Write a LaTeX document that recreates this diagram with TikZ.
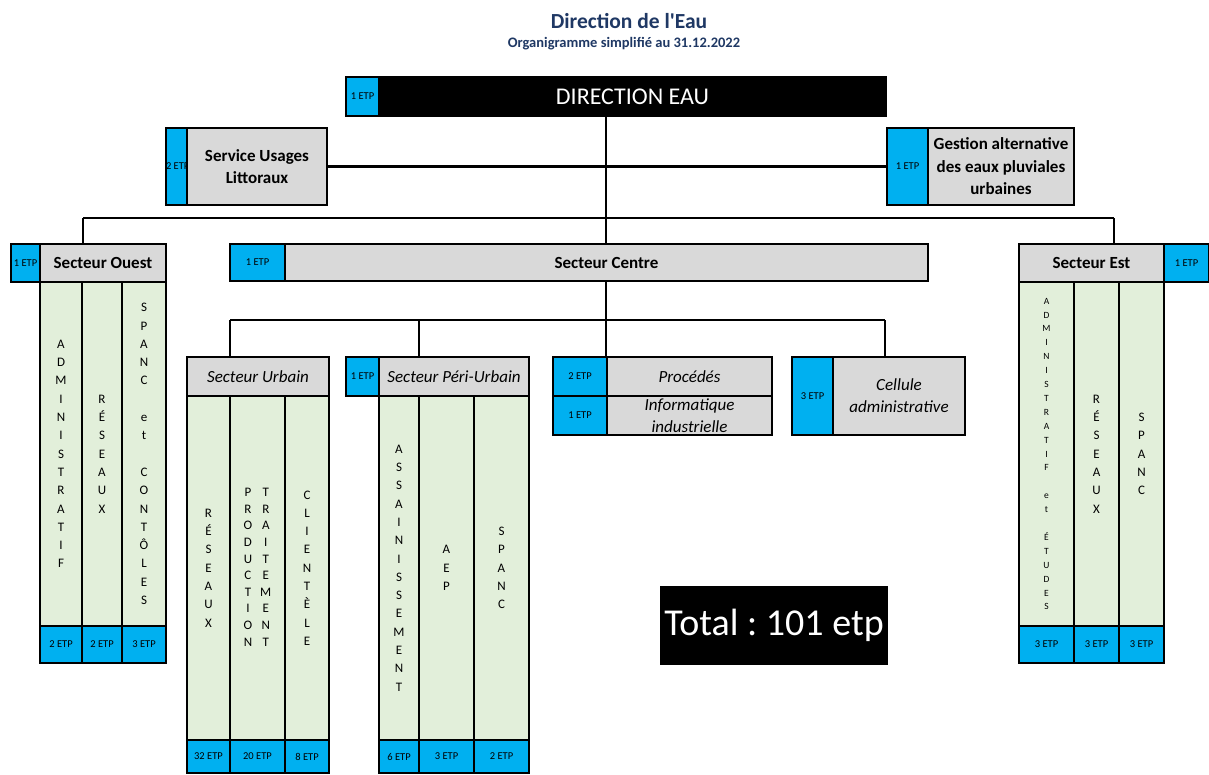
\documentclass[tikz,border=0pt]{standalone}
\usepackage{fontspec}
\setmainfont{Carlito}[Ligatures=TeXOff]
\definecolor{bleuetp}{HTML}{00B0F0}
\definecolor{grisbox}{HTML}{D9D9D9}
\definecolor{vertcol}{HTML}{E2EFDA}
\definecolor{bleutitre}{HTML}{1F3864}
\frenchspacing
% mot ecrit lettre par lettre, de haut en bas
\newcommand\vmot[1]{\vmotaux#1\relax}
\def\vmotaux#1#2\relax{#1\ifx\relax#2\relax\else\\\vmotaux#2\relax\fi}

\begin{document}
\begin{tikzpicture}[x=1pt,y=-1pt,
  every node/.style={inner sep=0pt,outer sep=0pt},
  boite/.style={draw,line width=2pt,fill=grisbox,anchor=north west,align=center},
  etp/.style={boite,fill=bleuetp,font=\fontsize{10.5}{12}\selectfont},
  secteur/.style={boite,font=\bfseries\fontsize{17}{22.5}\selectfont},
  service/.style={boite,font=\itshape\fontsize{17}{22}\selectfont},
  colonne/.style={boite,fill=vertcol,font=\fontsize{13}{18.3}\selectfont},
  noir/.style={boite,fill=black,text=white},
  lien/.style={line width=2.2pt}]
\useasboundingbox (0,0) rectangle (1209,774);

\node[font=\bfseries\fontsize{21.5}{24}\selectfont,text=bleutitre] (titre) at (629,21) {Direction de l'Eau};
\node[font=\bfseries\fontsize{14.5}{16}\selectfont,text=bleutitre] (soustitre) at (624,44) {Organigramme simplifié au 31.12.2022};

% direction
\node[etp,minimum width=33,minimum height=39] (diretp) at (346,77) {1 ETP};
\node[noir,minimum width=507,minimum height=39,font=\fontsize{24}{26}\selectfont] (direction) at (379,77) {DIRECTION EAU};

\node[etp,minimum width=21,minimum height=77] (usagesetp) at (166,128) {\makebox[21pt][l]{2 ETP}};
\node[secteur,minimum width=140,minimum height=77] (usages) at (187,128) {Service Usages\\Littoraux};
\node[etp,minimum width=41,minimum height=77] (gestionetp) at (887,128) {1 ETP};
\node[secteur,minimum width=146,minimum height=77] (gestion) at (928,128) {Gestion alternative\\des eaux pluviales\\urbaines};

% secteur ouest
\node[etp,minimum width=29,minimum height=38] (ouestetp) at (11,244) {1 ETP};
\node[secteur,minimum width=126,minimum height=38] (ouest) at (40,244) {Secteur Ouest};
\node[colonne,minimum width=42,minimum height=344] (ouestA) at (40,282) {\vmot{ADMINISTRATIF}};
\node[colonne,minimum width=40,minimum height=344] (ouestR) at (82,282) {\vmot{RÉSEAUX}};
\node[colonne,minimum width=44,minimum height=344] (ouestS) at (122,282) {\vmot{SPANC}\\~\\\vmot{et}\\~\\\vmot{CONTÔLES}};
\node[etp,minimum width=42,minimum height=37] (ouestAetp) at (40,626) {2 ETP};
\node[etp,minimum width=40,minimum height=37] (ouestRetp) at (82,626) {2 ETP};
\node[etp,minimum width=44,minimum height=37] (ouestSetp) at (122,626) {3 ETP};

% secteur centre
\node[etp,minimum width=55,minimum height=37] (centreetp) at (230,244) {1 ETP};
\node[secteur,minimum width=643,minimum height=37] (centre) at (285,244) {Secteur Centre};

% secteur est
\node[secteur,minimum width=145,minimum height=38] (est) at (1019,244) {Secteur Est};
\node[etp,minimum width=45,minimum height=38] (estetp) at (1164,244) {1 ETP};
\node[colonne,minimum width=55,minimum height=344,font=\fontsize{9.5}{13.9}\selectfont] (estA) at (1019,282) {\vmot{ADMINISTRATIF}\\~\\\vmot{et}\\~\\\vmot{ÉTUDES}};
\node[colonne,minimum width=45,minimum height=344] (estR) at (1074,282) {\vmot{RÉSEAUX}};
\node[colonne,minimum width=45,minimum height=344] (estS) at (1119,282) {\vmot{SPANC}};
\node[etp,minimum width=55,minimum height=37] (estAetp) at (1019,626) {3 ETP};
\node[etp,minimum width=45,minimum height=37] (estRetp) at (1074,626) {3 ETP};
\node[etp,minimum width=45,minimum height=37] (estSetp) at (1119,626) {3 ETP};

% secteur urbain
\node[service,minimum width=142,minimum height=39] (urbain) at (187,357) {Secteur Urbain};
\node[colonne,minimum width=43,minimum height=344] (urbainR) at (187,396) {\vmot{RÉSEAUX}};
\node[colonne,minimum width=55,minimum height=344] (urbainP) at (230,396) {\fontsize{13}{16.6}\selectfont
  \begin{tabular}{@{}c@{\hskip 8pt}c@{}}P&T\\R&R\\O&A\\D&I\\U&T\\C&E\\T&M\\I&E\\O&N\\N&T\end{tabular}};
\node[colonne,minimum width=44,minimum height=344] (urbainC) at (285,396) {\vmot{CLIENTÈLE}};
\node[etp,minimum width=43,minimum height=33] (urbainRetp) at (187,740) {32 ETP};
\node[etp,minimum width=55,minimum height=33] (urbainPetp) at (230,740) {20 ETP};
\node[etp,minimum width=44,minimum height=33] (urbainCetp) at (285,740) {8 ETP};

% secteur peri-urbain
\node[etp,minimum width=33,minimum height=39] (perietp) at (346,357) {1 ETP};
\node[service,minimum width=150,minimum height=39] (peri) at (379,357) {Secteur Péri-Urbain};
\node[colonne,minimum width=40,minimum height=344] (periA) at (379,396) {\vmot{ASSAINISSEMENT}};
\node[colonne,minimum width=55,minimum height=344] (periE) at (419,396) {\vmot{AEP}};
\node[colonne,minimum width=55,minimum height=344] (periS) at (474,396) {\vmot{SPANC}};
\node[etp,minimum width=40,minimum height=33] (periAetp) at (379,740) {6 ETP};
\node[etp,minimum width=55,minimum height=33] (periEetp) at (419,740) {3 ETP};
\node[etp,minimum width=55,minimum height=33] (periSetp) at (474,740) {2 ETP};

% procedes, informatique, cellule
\node[etp,minimum width=54,minimum height=39] (procetp) at (553,357) {2 ETP};
\node[service,minimum width=165,minimum height=39] (proc) at (607,357) {Procédés};
\node[etp,minimum width=54,minimum height=39] (infoetp) at (553,396) {1 ETP};
\node[service,minimum width=165,minimum height=39] (info) at (607,396) {Informatique\\industrielle};
\node[etp,minimum width=41,minimum height=78] (celluleetp) at (792,357) {3 ETP};
\node[service,minimum width=132,minimum height=78] (cellule) at (833,357) {Cellule\\administrative};

\node[noir,minimum width=226,minimum height=77,font=\fontsize{38}{40}\selectfont] (total) at (661,587) {Total : 101 etp};

% liens
\coordinate (haut) at (606,218);
\coordinate (busO) at (83,218);
\coordinate (busE) at (1114,218);
\coordinate (milieu) at (606,320);
\coordinate (busU) at (230,320);
\coordinate (busP) at (419,320);
\coordinate (busC) at (885,320);
\draw[lien] (haut |- direction.south) -- (haut);
\draw[lien] (usages.east) -- (gestionetp.west);
\draw[lien] (busO) -- (busE);
\draw[lien] (busO) -- (busO |- ouest.north);
\draw[lien] (busE) -- (busE |- est.north);
\draw[lien] (haut) -- (haut |- centre.north);
\draw[lien] (haut |- centre.south) -- (milieu);
\draw[lien] (busU) -- (busC);
\draw[lien] (busU) -- (busU |- urbain.north);
\draw[lien] (busP) -- (busP |- peri.north);
\draw[lien] (milieu) -- (milieu |- proc.north);
\draw[lien] (busC) -- (busC |- cellule.north);
\end{tikzpicture}
\end{document}
